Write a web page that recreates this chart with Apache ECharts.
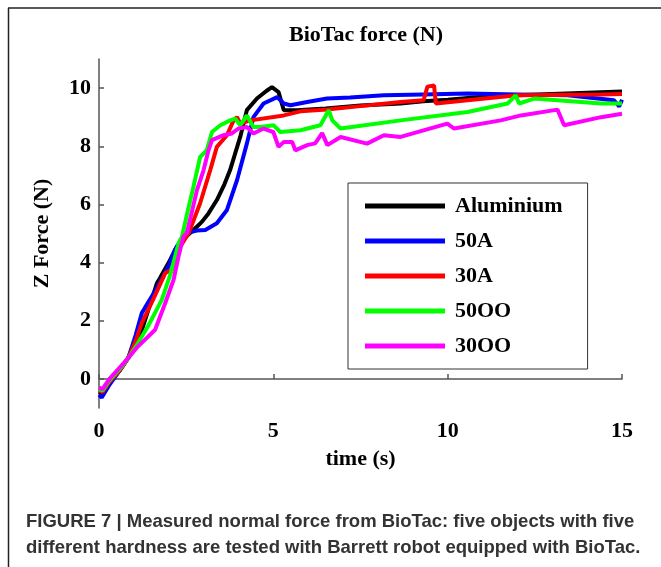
<!DOCTYPE html>
<html>
<head>
<meta charset="utf-8">
<script src="https://cdn.jsdelivr.net/npm/echarts@6/dist/echarts.min.js"></script>
<style>
html,body{margin:0;padding:0;background:#fff;}
#chart{width:661px;height:567px;}
</style>
</head>
<body>
<div id="chart"></div>
<script>
var seriesNames = ['Aluminium', '50A', '30A', '50OO', '30OO'];
var seriesColors = ['#000000', '#0000ff', '#ff0000', '#00ff00', '#ff00ff'];

var aluminium = [[0,-0.45],[0.1,-0.5],[0.3,-0.1],[0.6,0.3],[0.84,0.73],[1.05,1.2],[1.23,1.69],[1.45,2.5],[1.66,3.29],[1.75,3.47],[2.0,4.0],[2.23,4.55],[2.5,4.9],[2.71,5.12],[2.95,5.4],[3.14,5.69],[3.38,6.15],[3.6,6.7],[3.76,7.18],[4.05,8.32],[4.24,9.24],[4.53,9.64],[4.8,9.9],[4.96,10.03],[5.15,9.86],[5.3,9.24],[5.68,9.24],[6.5,9.3],[7.5,9.4],[8.65,9.47],[9.3,9.55],[10,9.6],[11,9.7],[12,9.75],[13,9.8],[14.4,9.86],[15,9.88]];
var a50 = [[0,-0.55],[0.08,-0.64],[0.3,-0.2],[0.6,0.3],[0.84,0.72],[1.05,1.5],[1.23,2.27],[1.32,2.45],[1.6,3.0],[1.99,3.86],[2.18,4.44],[2.47,5.01],[2.81,5.1],[3.05,5.12],[3.38,5.35],[3.67,5.81],[3.96,6.84],[4.24,8.09],[4.43,9.0],[4.72,9.47],[5.11,9.69],[5.3,9.47],[5.49,9.41],[5.97,9.52],[6.54,9.64],[7.2,9.68],[8.17,9.75],[9.3,9.78],[10.57,9.81],[12,9.78],[13.44,9.75],[14.77,9.58],[14.92,9.37],[15,9.6]];
var a30 = [[0,-0.4],[0.1,-0.45],[0.3,-0.1],[0.6,0.3],[0.84,0.72],[1.05,1.3],[1.23,1.93],[1.5,2.6],[1.9,3.64],[2.09,3.75],[2.33,4.55],[2.57,5.01],[2.9,6.04],[3.19,7.18],[3.38,7.98],[3.67,8.38],[3.86,8.89],[3.96,9.0],[4.05,8.78],[4.34,8.89],[5.3,9.06],[5.78,9.2],[6.54,9.26],[7.5,9.38],[8.65,9.52],[9.31,9.58],[9.42,10.05],[9.61,10.09],[9.66,9.47],[10.57,9.58],[12.0,9.75],[14.4,9.78],[15,9.8]];
var oo50 = [[0,-0.35],[0.1,-0.4],[0.3,-0.05],[0.6,0.35],[0.84,0.72],[1.1,1.2],[1.4,1.8],[1.8,2.72],[2.05,3.6],[2.28,4.66],[2.38,4.89],[2.55,5.8],[2.71,6.61],[2.9,7.63],[3.09,7.86],[3.24,8.49],[3.48,8.72],[3.76,8.89],[3.91,8.95],[4.05,8.72],[4.24,9.06],[4.43,8.66],[4.63,8.66],[5.01,8.72],[5.2,8.49],[5.78,8.55],[6.35,8.72],[6.59,9.24],[6.69,8.89],[6.93,8.61],[8.65,8.89],[10.57,9.18],[11.72,9.47],[11.95,9.75],[12.05,9.47],[12.48,9.64],[14.4,9.47],[15,9.47]];
var oo30 = [[0,-0.3],[0.1,-0.35],[0.3,0.0],[0.6,0.4],[0.84,0.72],[1.1,1.1],[1.32,1.35],[1.61,1.69],[1.9,2.61],[2.14,3.41],[2.28,4.21],[2.42,4.89],[2.52,5.01],[2.81,6.49],[3.0,7.18],[3.14,7.86],[3.24,8.21],[3.57,8.38],[3.81,8.44],[4.0,8.61],[4.24,8.66],[4.43,8.44],[4.72,8.61],[5.0,8.49],[5.15,7.98],[5.3,8.15],[5.54,8.15],[5.63,7.86],[5.97,8.04],[6.2,8.1],[6.4,8.45],[6.55,8.04],[6.93,8.32],[7.69,8.09],[8.17,8.38],[8.65,8.32],[9.99,8.78],[10.18,8.61],[11.52,8.89],[12.1,9.06],[13.15,9.26],[13.34,8.72],[14.4,9.0],[15,9.12]];

var yTicks = [0, 2, 4, 6, 8, 10];
var xTicks = [0, 5, 10, 15];
var captionLines = [
  'FIGURE 7 | Measured normal force from BioTac: five objects with five',
  'different hardness are tested with Barrett robot equipped with BioTac.'
];

var serif = '"Liberation Serif", "Times New Roman", serif';
var allData = [aluminium, a50, a30, oo50, oo30];

var chart = echarts.init(document.getElementById('chart'), null, {renderer: 'canvas'});
var option = {
  animation: false,
  backgroundColor: '#ffffff',
  title: {
    text: 'BioTac force (N)',
    left: 361,
    top: 19,
    textAlign: 'center',
    textStyle: {fontFamily: serif, fontWeight: 'bold', fontSize: 22, color: '#000'}
  },
  grid: {left: 99, right: 39, top: 59, bottom: 159},
  legend: {
    orient: 'vertical',
    left: 348,
    top: 183,
    icon: 'rect',
    itemWidth: 80,
    itemHeight: 5,
    itemGap: 11,
    padding: [11, 25, 11, 17],
    borderColor: '#333',
    borderWidth: 1,
    backgroundColor: '#fff',
    data: seriesNames,
    textStyle: {fontFamily: serif, fontWeight: 'bold', fontSize: 22, lineHeight: 24, color: '#000', padding: [0, 0, 0, 5]}
  },
  xAxis: {
    type: 'value',
    min: 0, max: 15, interval: 5,
    name: 'time (s)',
    nameLocation: 'middle',
    nameGap: 40,
    nameTextStyle: {fontFamily: serif, fontWeight: 'bold', fontSize: 22, color: '#000'},
    axisLine: {show: true, lineStyle: {color: '#555', width: 1.5}},
    axisTick: {show: true, inside: true, length: 5, lineStyle: {color: '#555', width: 1.5}, customValues: xTicks},
    axisLabel: {fontFamily: serif, fontWeight: 'bold', fontSize: 22, color: '#000', margin: 12, customValues: xTicks},
    splitLine: {show: false}
  },
  yAxis: {
    type: 'value',
    min: -1, max: 11,
    name: 'Z Force (N)',
    nameLocation: 'middle',
    nameGap: 46,
    nameTextStyle: {fontFamily: serif, fontWeight: 'bold', fontSize: 22, color: '#000'},
    axisLine: {show: true, lineStyle: {color: '#555', width: 1.5}},
    axisTick: {show: true, inside: true, length: 5, lineStyle: {color: '#555', width: 1.5}, customValues: yTicks},
    axisLabel: {fontFamily: serif, fontWeight: 'bold', fontSize: 22, color: '#000', margin: 8, customValues: yTicks},
    splitLine: {show: false}
  },
  series: seriesNames.map(function (n, i) {
    return {
      name: n,
      type: 'line',
      data: allData[i],
      showSymbol: false,
      symbol: 'none',
      color: seriesColors[i],
      lineStyle: {width: 4, color: seriesColors[i]},
      z: 2 + i
    };
  }),
  graphic: [
    {type: 'line', shape: {x1: 8, y1: 8, x2: 661, y2: 8}, style: {stroke: '#222', lineWidth: 1.5}},
    {type: 'line', shape: {x1: 8.5, y1: 8, x2: 8.5, y2: 567}, style: {stroke: '#222', lineWidth: 1.5}},
    {type: 'text', left: 26, top: 512, style: {text: captionLines[0], font: 'bold 18.5px "Liberation Sans", Arial, sans-serif', fill: '#333'}},
    {type: 'text', left: 26, top: 538, style: {text: captionLines[1], font: 'bold 18.5px "Liberation Sans", Arial, sans-serif', fill: '#333'}}
  ]
};
chart.setOption(option);
</script>
</body>
</html>
